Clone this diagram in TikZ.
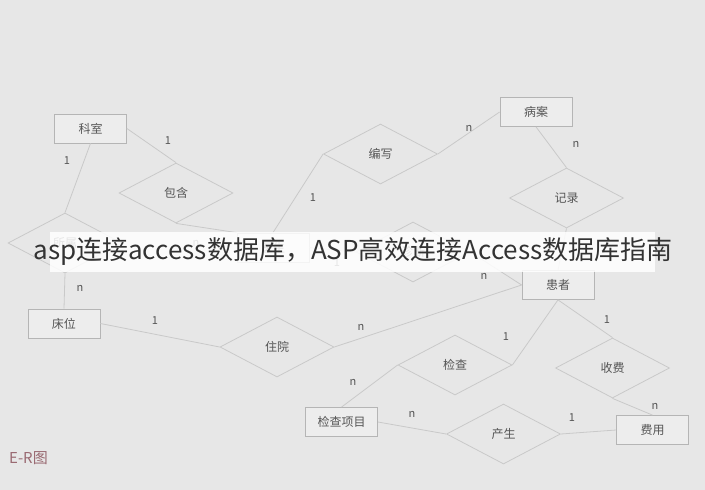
\documentclass[tikz,border=0pt]{standalone}
\usepackage{fontspec}
\setmainfont{Noto Sans CJK SC}
\newfontfamily\cjk{Noto Sans CJK SC}
\usetikzlibrary{shapes.geometric}
\definecolor{bgc}{HTML}{E7E7E7}
\definecolor{boxfill}{HTML}{EDEDED}
\definecolor{boxdraw}{HTML}{B5B5B5}
\definecolor{linec}{HTML}{C9C9C9}
\definecolor{txtc}{HTML}{555555}
\definecolor{erc}{HTML}{9A6A72}
\definecolor{bannertxt}{HTML}{333333}
\tikzset{
  entity/.style={draw=boxdraw, fill=boxfill, line width=0.8pt, minimum width=72pt, minimum height=29pt, inner sep=0pt, font=\cjk\fontsize{12}{12}\selectfont, text=txtc},
  rel/.style={diamond, draw=linec, line width=0.8pt, minimum width=114pt, minimum height=60pt, inner sep=0pt, font=\cjk\fontsize{12}{12}\selectfont, text=txtc},
  conn/.style={draw=linec, line width=0.8pt},
  card/.style={font=\cjk\fontsize{11}{11}\selectfont, text=txtc, inner sep=0pt}
}
\begin{document}
\begin{tikzpicture}[x=1pt, y=-1pt]
\fill[bgc] (0,0) rectangle (705,490);
\useasboundingbox (0,0) rectangle (705,490);
% entities
\node[entity] (keshi) at (90.5,128.5) {科室};
\node[entity] (bingan) at (536,112) {病案};
\node[entity] (yisheng) at (273,247.5) {医生};
\node[entity] (huanzhe) at (558,285) {患者};
\node[entity] (chuangwei) at (64,323.5) {床位};
\node[entity] (jcxm) at (341.5,422) {检查项目};
\node[entity] (feiyong) at (652.5,430) {费用};
% relations
\node[rel] (baohan) at (176,193) {包含};
\node[rel] (suoshu) at (65,243) {所属};
\node[rel] (bianxie) at (380.5,154) {编写};
\node[rel] (jilu) at (566.5,198) {记录};
\node[rel] (zhenduan) at (413,252) {诊断};
\node[rel] (zhuyuan) at (277,347) {住院};
\node[rel] (jiancha) at (455,365) {检查};
\node[rel] (shoufei) at (612.5,368) {收费};
\node[rel] (chansheng) at (503.5,434) {产生};
% connectors
\draw[conn] (keshi.east) -- (baohan.north);
\draw[conn] (baohan.south) -- (yisheng.north west);
\draw[conn] (keshi.south) -- (suoshu.north);
\draw[conn] (suoshu.south) -- (chuangwei.north);
\draw[conn] (yisheng.north) -- (bianxie.west);
\draw[conn] (bianxie.east) -- (bingan.west);
\draw[conn] (bingan.south) -- (jilu.north);
\draw[conn] (jilu.south) -- (huanzhe.north);
\draw[conn] (yisheng.east) -- (zhenduan.west);
\draw[conn] (zhenduan.east) -- (huanzhe.west);
\draw[conn] (chuangwei.east) -- (zhuyuan.west);
\draw[conn] (zhuyuan.east) -- (huanzhe.west);
\draw[conn] (huanzhe.south) -- (jiancha.east);
\draw[conn] (huanzhe.south) -- (shoufei.north);
\draw[conn] (jiancha.west) -- (jcxm.north);
\draw[conn] (jcxm.east) -- (chansheng.west);
\draw[conn] (chansheng.east) -- (feiyong.west);
\draw[conn] (shoufei.south) -- (feiyong.north);
% cardinalities
\node[card] (c1) at (168,141) {1};
\node[card] (c2) at (67,161) {1};
\node[card] (c3) at (196,243) {n};
\node[card] (c4) at (80,288) {n};
\node[card] (c5) at (313,198) {1};
\node[card] (c6) at (469,128) {n};
\node[card] (c7) at (576,144) {n};
\node[card] (c8) at (337,263) {1};
\node[card] (c9) at (484,276) {n};
\node[card] (c10) at (155,321) {1};
\node[card] (c11) at (361,327) {n};
\node[card] (c12) at (506,337) {1};
\node[card] (c13) at (607,320) {1};
\node[card] (c14) at (353,382) {n};
\node[card] (c15) at (412,414) {n};
\node[card] (c16) at (572,418) {1};
\node[card] (c17) at (655,406) {n};
% caption
\node[anchor=west, inner sep=0pt, font=\cjk\fontsize{15}{15}\selectfont, text=erc] (er) at (9,458) {E-R图};
% banner
\fill[white, opacity=0.85] (50,232) rectangle (655,272);
\node[inner sep=0pt, font=\cjk\fontsize{26}{26}\selectfont, text=bannertxt] (banner) at (353,252) {asp连接access数据库，ASP高效连接Access数据库指南};
\end{tikzpicture}
\end{document}
